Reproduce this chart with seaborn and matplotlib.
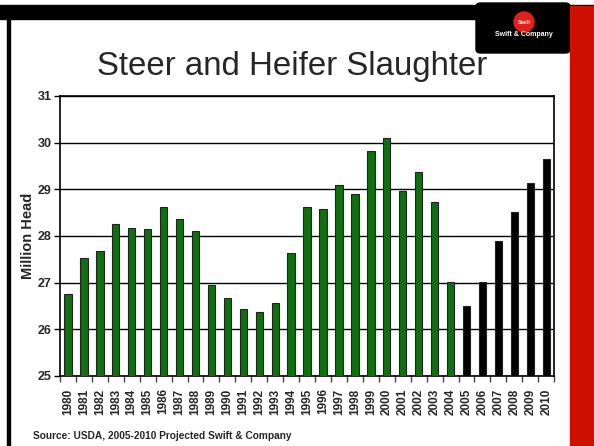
import matplotlib
matplotlib.use("Agg")
import matplotlib.pyplot as plt
import matplotlib.patches as mpatches
import seaborn as sns
from matplotlib.ticker import FixedLocator

years = [str(y) for y in range(1980, 2011)]
head = [26.76, 27.53, 27.67, 28.25, 28.18, 28.15, 28.62, 28.36, 28.10, 26.94,
        26.66, 26.44, 26.36, 26.57, 27.63, 28.62, 28.57, 29.09, 28.89, 29.82,
        30.10, 28.97, 29.38, 28.73, 27.02, 26.50, 27.02, 27.90, 28.51, 29.13,
        29.65]
projected = [y >= "2005" for y in years]
colors = ["#000000" if p else "#008000" for p in projected]

sns.set_style("white")
plt.rcParams["font.family"] = ["Liberation Sans", "DejaVu Sans"]

fig = plt.figure(figsize=(5.94, 4.46), dpi=100)
ax = fig.add_axes([0.101, 0.157, 0.832, 0.628])

sns.barplot(x=years, y=head, hue=years, palette=colors, legend=False,
            width=0.46, edgecolor="#222222", linewidth=0.8, ax=ax, zorder=3)

ax.set_ylim(25, 31)
ax.set_xlim(-0.5, len(years) - 0.5)
ax.set_yticks(range(25, 32))
ax.set_yticklabels([str(v) for v in range(25, 32)], fontweight="bold", fontsize=9)
ax.yaxis.grid(True, color="black", linewidth=1.0, zorder=0)
ax.set_axisbelow(True)
ax.tick_params(axis="y", length=4, width=1, color="black", pad=2, left=True)
ax.set_xticks(range(len(years)))
ax.set_xticklabels(years, rotation=90, fontweight="bold", fontsize=8.5)
ax.tick_params(axis="x", which="major", length=0, pad=9)
ax.xaxis.set_minor_locator(FixedLocator([i + 0.5 for i in range(-1, len(years))]))
ax.tick_params(axis="x", which="minor", length=4, width=1, color="#444444", bottom=True)
ax.set_xlabel("")
ax.set_ylabel("Million Head", fontweight="bold", fontsize=10.5, labelpad=2)
for s in ax.spines.values():
    s.set_visible(True)
    s.set_color("black")
    s.set_linewidth(1.2)

# slide decoration
fig.patches.append(mpatches.Rectangle((0, 1 - 19 / 446), 1, 14 / 446,
                                      transform=fig.transFigure, color="black"))
fig.patches.append(mpatches.Rectangle((7 / 594, 0), 3 / 594, 1 - 19 / 446,
                                      transform=fig.transFigure, color="black"))
fig.patches.append(mpatches.FancyBboxPatch((476 / 594, 1 - 53 / 446), 94 / 594, 50 / 446,
                                           boxstyle="round,pad=0,rounding_size=0.008",
                                           transform=fig.transFigure, color="black"))
fig.patches.append(mpatches.Rectangle((570 / 594, 0), 24 / 594, 1 - 6 / 446,
                                      transform=fig.transFigure, color="#cc1100"))
fig.patches.append(mpatches.Ellipse((524 / 594, 1 - 22 / 446), 20 / 594, 20 / 446,
                                    transform=fig.transFigure, color="#e0201a"))
fig.text(524 / 594, 1 - 22 / 446, "Swift", color="white", fontsize=4,
         fontweight="bold", ha="center", va="center")
fig.text(524 / 594, 1 - 35 / 446, "Swift & Company", color="white", fontsize=5,
         fontweight="bold", ha="center", va="center")

fig.text(292 / 594, 1 - 66 / 446, "Steer and Heifer Slaughter", fontsize=23.8,
         ha="center", va="center")
fig.text(33 / 594, 1 - 436 / 446, "Source: USDA, 2005-2010 Projected Swift & Company",
         fontsize=7.3, fontweight="bold", ha="left", va="center")

fig.savefig("out.png", dpi=100)
